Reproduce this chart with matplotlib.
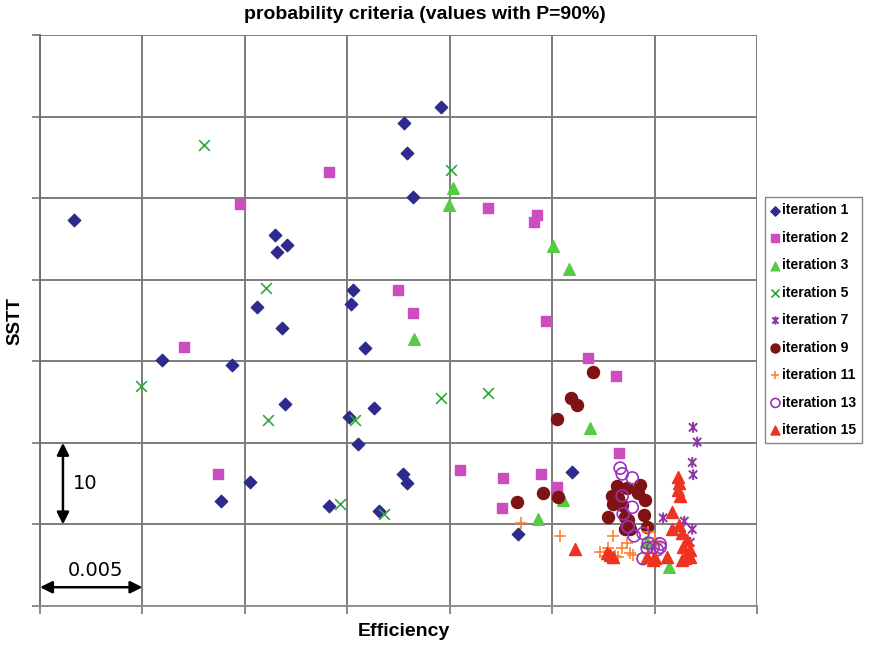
import matplotlib.pyplot as plt
from matplotlib.path import Path

# data (Efficiency, SSTT)
it1_x = [0.00166, 0.01958, 0.01777, 0.01792, 0.01821, 0.01147, 0.01206, 0.01157, 0.01528,
         0.01519, 0.01060, 0.01182, 0.01587, 0.00596, 0.00938, 0.01196, 0.01509, 0.01631,
         0.01553, 0.01772, 0.01792, 0.01025, 0.00884, 0.01411, 0.01655, 0.02598, 0.02334]
it1_y = [47.3, 61.2, 59.2, 55.5, 50.1, 45.5, 44.2, 43.4, 38.8,
         37.0, 36.6, 34.1, 31.6, 30.1, 29.5, 24.8, 23.2, 24.3,
         19.9, 16.2, 15.1, 15.2, 12.9, 12.3, 11.6, 16.4, 8.8]

it2_x = [0.01411, 0.00977, 0.02188, 0.02427, 0.02412, 0.01748, 0.01821, 0.02471, 0.00703,
         0.02676, 0.02813, 0.02827, 0.00869, 0.02051, 0.02261, 0.02446, 0.02524, 0.02256]
it2_y = [53.2, 49.3, 48.8, 47.9, 47.1, 38.7, 35.9, 34.9, 31.7,
         30.4, 28.2, 18.8, 16.2, 16.7, 15.7, 16.2, 14.6, 12.0]

it3_x = [0.02017, 0.01997, 0.02505, 0.02583, 0.01826, 0.02686, 0.02432, 0.02554, 0.03071, 0.02964]
it3_y = [51.2, 49.1, 44.1, 41.3, 32.7, 21.8, 10.7, 13.0, 4.8, 7.8]

it5_x = [0.00801, 0.02007, 0.01104, 0.00493, 0.01113, 0.01538, 0.01958, 0.02188, 0.01465, 0.01680]
it5_y = [56.5, 53.4, 39.0, 27.0, 22.8, 22.8, 25.5, 26.1, 12.5, 11.3]

it7_x = [0.03188, 0.03208, 0.03184, 0.03188, 0.03042, 0.03145, 0.03184, 0.03174]
it7_y = [21.9, 20.1, 17.6, 16.1, 10.8, 10.4, 9.4, 7.8]

it9_x = [0.02700, 0.02593, 0.02622, 0.02524, 0.02329, 0.02456, 0.02529,
         0.02866, 0.02930, 0.02920, 0.02954, 0.02793, 0.02822, 0.02798, 0.02773,
         0.02856, 0.02871, 0.02949, 0.02856, 0.02881, 0.02964, 0.02817, 0.02842]
it9_y = [28.7, 25.5, 24.6, 22.9, 12.7, 13.8, 13.4,
         14.5, 14.8, 13.8, 13.0, 13.5, 13.2, 12.5, 10.9,
         10.9, 10.5, 11.2, 9.4, 9.4, 9.7, 14.7, 12.4]

it11_x = [0.02349, 0.02539, 0.02798, 0.02773, 0.02734, 0.02759, 0.02808, 0.02842,
          0.02866, 0.02896, 0.02881, 0.02822, 0.02969, 0.03003, 0.03013, 0.02783]
it11_y = [10.2, 8.6, 8.6, 7.1, 6.6, 6.1, 6.1, 7.1,
          7.7, 6.3, 6.5, 6.0, 9.1, 8.3, 7.7, 6.4]

it13_x = [0.02832, 0.02842, 0.02891, 0.02842, 0.02891, 0.02847, 0.02871, 0.02900,
          0.02944, 0.02964, 0.02993, 0.03027, 0.03013, 0.02944, 0.02969, 0.03027]
it13_y = [16.9, 16.2, 15.7, 13.5, 12.1, 11.3, 9.7, 8.6,
          8.9, 7.1, 7.2, 7.2, 6.9, 5.8, 7.7, 7.6]

it15_x = [0.02612, 0.02769, 0.02798, 0.02964, 0.02993, 0.03062, 0.03115, 0.03120,
          0.03115, 0.03125, 0.03086, 0.03086, 0.03120, 0.03135, 0.03159, 0.03140,
          0.03174, 0.03149, 0.03135, 0.03174, 0.02783, 0.03003]
it15_y = [7.0, 6.5, 6.0, 6.0, 5.6, 6.0, 15.8, 15.1,
          14.2, 13.5, 11.5, 9.4, 9.9, 8.9, 8.1, 7.2,
          6.9, 5.9, 5.6, 6.0, 6.3, 5.9]

# excel style star: x with a vertical bar
star = Path([(-1, -1), (1, 1), (-1, 1), (1, -1), (0, -1.3), (0, 1.3)],
            [Path.MOVETO, Path.LINETO, Path.MOVETO, Path.LINETO, Path.MOVETO, Path.LINETO])

plt.rcParams['font.family'] = ['Liberation Sans', 'DejaVu Sans']

fig = plt.figure(figsize=(8.69, 6.45), dpi=100)
ax = fig.add_axes([40 / 869, 39 / 645, 717 / 869, 571 / 645])

ax.scatter(it1_x, it1_y, marker='D', s=40, color='#2e2a8e', label='iteration 1', zorder=3)
ax.scatter(it2_x, it2_y, marker='s', s=60, color='#cc4dbf', label='iteration 2', zorder=3)
ax.scatter(it3_x, it3_y, marker='^', s=70, color='#55cc44', label='iteration 3', zorder=3)
ax.scatter(it5_x, it5_y, marker='x', s=60, color='#2ea83a', linewidths=1.2, label='iteration 5', zorder=3)
ax.scatter(it7_x, it7_y, marker=star, s=60, facecolors='none', edgecolors='#8a35a8',
           linewidths=1.4, label='iteration 7', zorder=3)
ax.scatter(it9_x, it9_y, marker='o', s=75, color='#7f1212', label='iteration 9', zorder=3)
ax.scatter(it11_x, it11_y, marker='+', s=70, color='#ff8030', linewidths=1.2, label='iteration 11', zorder=3)
ax.scatter(it13_x, it13_y, marker='o', s=75, facecolors='none', edgecolors='#9933bb',
           linewidths=1.2, label='iteration 13', zorder=3)
ax.scatter(it15_x, it15_y, marker='^', s=75, color='#ee3322', label='iteration 15', zorder=3)

ax.set_xlim(0, 0.035)
ax.set_ylim(0, 70)
ax.set_xticks([i * 0.005 for i in range(8)])
ax.set_yticks(range(0, 71, 10))
ax.tick_params(labelbottom=False, labelleft=False, direction='out', length=6,
               color='#808080', width=1.3)
ax.grid(True, color='#7c7c7c', linewidth=1.4)
ax.set_axisbelow(True)
for side in ['top', 'right']:
    ax.spines[side].set_visible(False)
ax.spines['left'].set_color('#707070')
ax.spines['bottom'].set_color('#909090')
ax.spines['left'].set_linewidth(1.4)
ax.spines['bottom'].set_linewidth(1.4)

# scale arrows
ax.annotate('', xy=(0.00112, 20), xytext=(0.00112, 10),
            arrowprops=dict(arrowstyle='<|-|>', color='black', lw=1.8, mutation_scale=18,
                            shrinkA=0, shrinkB=0))
ax.text(0.0016, 15, '10', fontsize=14, family='DejaVu Sans', va='center', ha='left')
ax.annotate('', xy=(0.0, 2.3), xytext=(0.005, 2.3),
            arrowprops=dict(arrowstyle='<|-|>', color='black', lw=1.8, mutation_scale=18,
                            shrinkA=0, shrinkB=0))
ax.text(0.0027, 3.2, '0.005', fontsize=14, family='DejaVu Sans', va='bottom', ha='center')

fig.text(0.4885, 0.978, 'probability criteria (values with P=90%)', fontsize=14,
         fontweight='bold', ha='center', va='center')
fig.text(404 / 869, 1 - 632 / 645, 'Efficiency', fontsize=14, fontweight='bold',
         ha='center', va='center')
fig.text(15 / 869, 1 - 321 / 645, 'SSTT', fontsize=13.5, fontweight='bold', rotation=90,
         ha='center', va='center')

leg = fig.legend(loc='upper left', bbox_to_anchor=(765 / 869, 1 - 197 / 645),
                 borderaxespad=0, handlelength=0.6, handletextpad=0.15, labelspacing=0.97,
                 borderpad=0.45, fancybox=False, edgecolor='#666666', markerscale=0.75,
                 prop={'weight': 'bold', 'size': 10})
leg.get_frame().set_linewidth(1.0)

fig.savefig('out.png', dpi=100)
